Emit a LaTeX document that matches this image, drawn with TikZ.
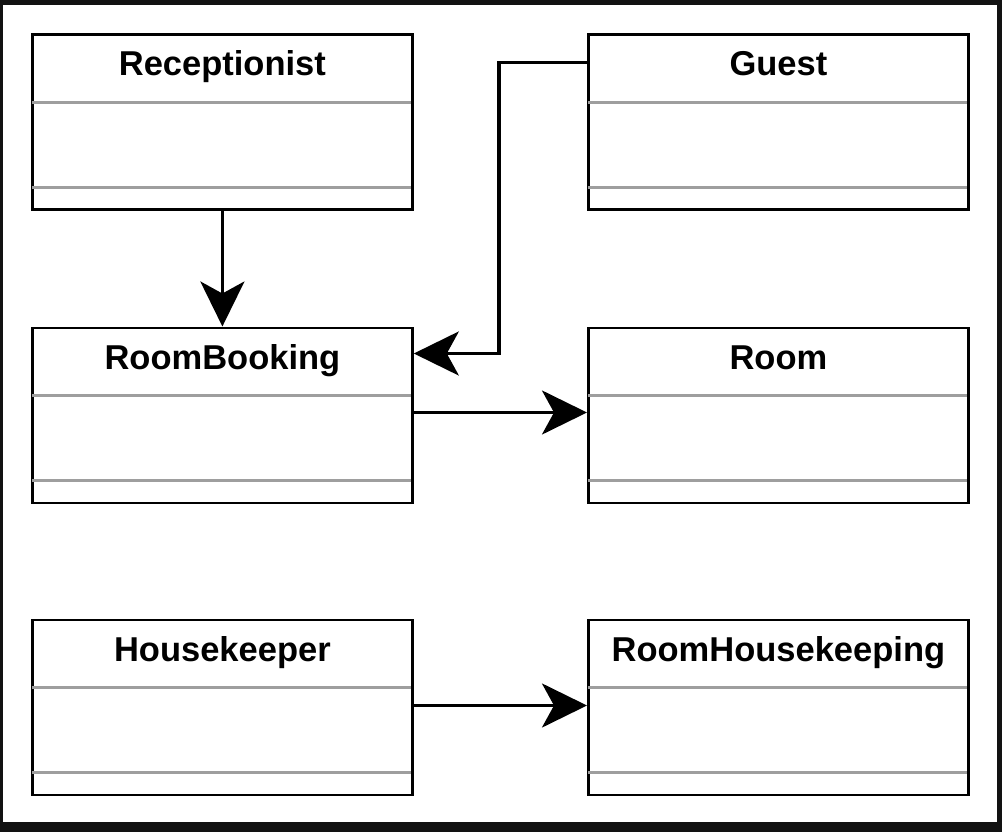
\documentclass[tikz,border=0pt]{standalone}
\usepackage{fontspec}
\setmainfont{Liberation Sans}
\usetikzlibrary{arrows.meta,calc}
\begin{document}
\begin{tikzpicture}[x=1pt,y=-1pt,
  cls/.style={draw=black,line width=2.8pt,fill=white,minimum width=380pt,minimum height=175pt,anchor=north west,inner sep=0pt},
  ttl/.style={font=\bfseries\fontsize{34.5}{40}\selectfont,inner sep=0pt,anchor=base},
  sep/.style={draw=black!38,line width=2.6pt},
  conn/.style={draw=black,line width=3.2pt,-{Stealth[length=45pt,width=44pt,inset=12pt]}}]
\fill[black!93] (0,0) rectangle (1002,832);
\fill[white] (3,5) rectangle (997,822);
\useasboundingbox (0,0) rectangle (1002,832);
% boxes
\node[cls] (rec) at (31,33.5) {};
\node[cls] (guest) at (587,33.5) {};
\node[cls] (book) at (31,326.5) {};
\node[cls] (room) at (587,326.5) {};
\node[cls] (hk) at (31,618.5) {};
\node[cls] (rhk) at (587,618.5) {};
\foreach \b/\t in {rec/Receptionist,guest/Guest,book/RoomBooking,room/Room,hk/Housekeeper,rhk/RoomHousekeeping}{
  \node[ttl] (\b-t) at ($(\b.north)+(0,42.5)$) {\t};
  \draw[sep] ($(\b.north west)+(1.4,69)$) -- ($(\b.north east)+(-3,69)$);
  \draw[sep] ($(\b.south west)+(1.4,-24)$) -- ($(\b.south east)+(-3,-24)$);
}
% connectors
\draw[conn] (rec.south) -- (book.north);
\draw[conn] ($(guest.north west)+(0,29)$) -- ++(-88,0) |- ($(book.north east)+(0,27)$);
\draw[conn] ($(book.north east)+(0,86)$) -- ($(room.north west)+(0,86)$);
\draw[conn] ($(hk.north east)+(0,87)$) -- ($(rhk.north west)+(0,87)$);
\end{tikzpicture}
\end{document}
